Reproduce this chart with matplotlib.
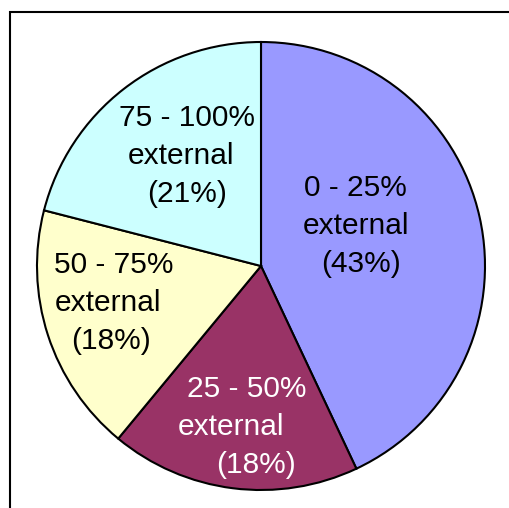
import matplotlib
matplotlib.use("Agg")
import matplotlib.pyplot as plt
from matplotlib.patches import Rectangle

# share of staff by proportion of external work
categories = ["0 - 25%", "25 - 50%", "50 - 75%", "75 - 100%"]
shares = [43, 18, 18, 21]
colors = ["#9999FF", "#993366", "#FFFFCC", "#CCFFFF"]
text_colors = ["black", "white", "black", "black"]

# label block centres (data units) and per-line horizontal nudges (pixels)
label_pos = [(0.424, 0.179), (-0.134, -0.719), (-0.683, -0.165), (-0.357, 0.491)]
line_shift = [(-1, 0, 5), (16, 0, 25), (6, 0, 3), (6, 0, 6)]
line_gap = 38

plt.rcParams["font.family"] = ["Liberation Sans", "DejaVu Sans"]

fig = plt.figure(figsize=(5.09, 5.08), dpi=100)
ax = fig.add_axes([37 / 509, 18 / 508, 448 / 509, 448 / 508])

ax.pie(shares, colors=colors, startangle=90, counterclock=False,
       radius=1, wedgeprops=dict(edgecolor="black", linewidth=1.5))
ax.set_aspect("auto")
ax.set_xlim(-1, 1)
ax.set_ylim(-1, 1)
ax.axis("off")

for cat, pct, pos, shifts, tc in zip(categories, shares, label_pos, line_shift, text_colors):
    lines = [cat, "external", f"({pct}%)"]
    for i, (txt, dx) in enumerate(zip(lines, shifts)):
        ax.annotate(txt, xy=pos, xytext=(dx, (1 - i) * line_gap),
                    textcoords="offset pixels", ha="center", va="center",
                    fontsize=21.5, color=tc)

# chart-area border (runs off the right and bottom edges)
fig.patches.append(Rectangle((9.5 / 509, -0.2), 1.2, 1.2 - 12 / 508,
                             transform=fig.transFigure, fill=False,
                             edgecolor="black", linewidth=1.5))

fig.savefig("out.png", dpi=100)
